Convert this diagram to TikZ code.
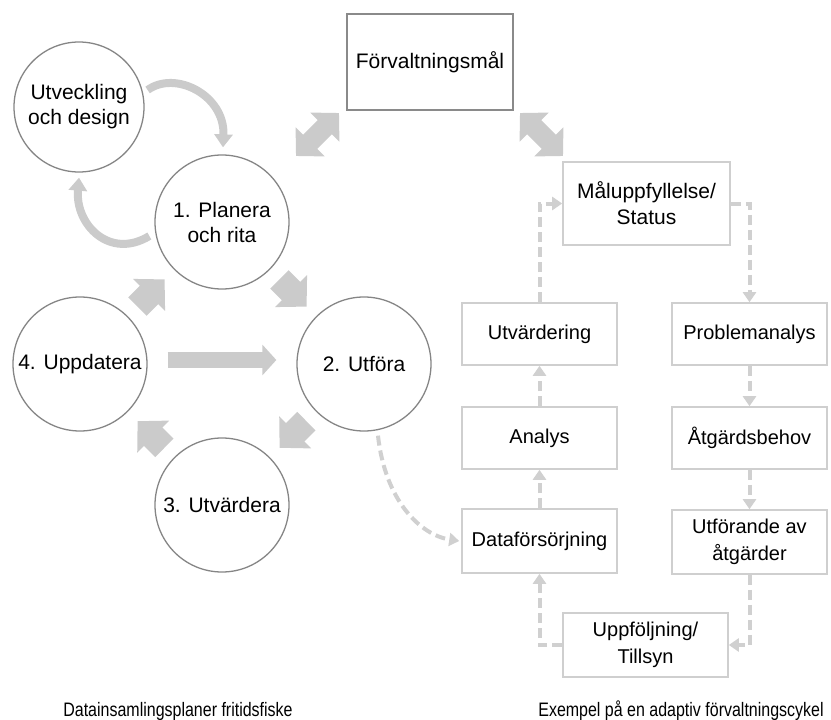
\documentclass[tikz,border=0pt]{standalone}
\usepackage{fontspec}
\setmainfont{Liberation Sans}
\newfontfamily\capfont[FakeStretch=0.82]{Liberation Sans}
\usetikzlibrary{arrows.meta,calc}
\definecolor{circc}{HTML}{858585}
\definecolor{boxl}{HTML}{CFCFCF}
\definecolor{boxd}{HTML}{8A8A8A}
\definecolor{arr}{HTML}{CBCBCB}
\definecolor{dsc}{HTML}{D0D0D0}
\begin{document}
\begin{tikzpicture}[x=1pt,y=-1pt,
  circnode/.style={circle, draw=circc, line width=1.3pt, minimum size=134pt, inner sep=0pt, align=center, font=\fontsize{21}{25}\selectfont},
  bx/.style={draw=boxl, line width=1.6pt, minimum width=155pt, minimum height=62pt, inner sep=0pt, align=center, font=\fontsize{20}{27}\selectfont},
  blk/.style={draw=arr, line width=26pt, -{Triangle[width=44pt,length=22pt]}, shorten <=13.5pt, shorten >=13.5pt},
  dblarr/.style={draw=arr, line width=20pt, {Triangle[width=40pt,length=20pt]}-{Triangle[width=40pt,length=20pt]}},
  curarr/.style={draw=arr, line width=8pt, -{Triangle[width=18pt,length=13pt]}},
  dsh/.style={draw=dsc, line width=4pt, dash pattern=on 10pt off 5pt, -{Triangle[width=13pt,length=10pt]}},
  captext/.style={font=\capfont\fontsize{19.5}{22}\selectfont, inner sep=0pt, anchor=base}
]
\useasboundingbox (0,0) rectangle (831,720);

% circles
\node[circnode, minimum size=130pt] (ut) at (79,107) {Utveckling\\och design};
\node[circnode] (pl) at (222,222) {1. Planera\\och rita};
\node[circnode] (up) at (80,364) {4. Uppdatera};
\node[circnode] (uf) at (364,364) {2. Utföra};
\node[circnode] (uv) at (222,505) {3. Utvärdera};

% block arrows of the cycle
\draw[blk] (up) -- (pl);
\draw[blk] (pl) -- (uf);
\draw[blk] (uf) -- (uv);
\draw[blk] (uv) -- (up);
\draw[draw=arr, line width=16pt, -{Triangle[width=30pt,length=14pt]}]
  ($(up.east)+(20,-4)$) -- ($(uf.west)+(-20,-4)$);

% curved arrows
\draw[curarr] ($(ut.east)+(3,-17)$) .. controls (175,70) and (225,95) .. ($(pl.north)+(1,-7)$);
\draw[curarr] ($(pl.west)+(-5,14)$) .. controls (110,260) and (75,225) .. ($(ut.south)+(0,5)$);

% boxes
\node[bx, draw=boxd, line width=1.4pt, minimum width=166pt, minimum height=96pt, font=\fontsize{21}{25}\selectfont] (forv) at (430,62) {Förvaltningsmål};
\node[bx, minimum width=167pt, minimum height=83pt, font=\fontsize{21}{26}\selectfont] (mal) at (646.5,203.5) {Måluppfyllelse/\\Status};
\node[bx] (utv) at (539.5,334) {Utvärdering};
\node[bx] (ana) at (539.5,438) {Analys};
\node[bx, minimum height=64pt] (data) at (539.5,541) {Dataförsörjning};
\node[bx] (prob) at (749.5,334) {Problemanalys};
\node[bx] (atg) at (749.5,438) {Åtgärdsbehov};
\node[bx, minimum height=64pt] (utfa) at (749.5,542) {Utförande av\\åtgärder};
\node[bx, minimum width=165pt, minimum height=64pt] (upp) at (645.5,645) {Uppföljning/\\Tillsyn};

% double arrows
\coordinate (dla) at (296,156);
\coordinate (dlb) at (339,113);
\coordinate (dra) at (520,113);
\coordinate (drb) at (563,156);
\draw[dblarr] (dla) -- (dlb);
\draw[dblarr] (dra) -- (drb);

% dashed connectors
\draw[dsh] (data) -- (ana);
\draw[dsh] (ana) -- (utv);
\draw[dsh] (utv.north) |- (mal.west);
\draw[dsh] (mal.east) -| (prob.north);
\draw[dsh] (prob) -- (atg);
\draw[dsh] (atg) -- (utfa);
\draw[dsh] (utfa.south) |- (upp.east);
\draw[dsh] (upp.west) -| (data.south);
\draw[dsh] ($(uf.south)+(14,4)$) .. controls (385,500) and (420,535) .. ($(data.west)+(-2,0)$);

% captions
\node[captext] (cap1) at (178,716) {Datainsamlingsplaner fritidsfiske};
\node[captext] (cap2) at (681,716) {Exempel på en adaptiv förvaltningscykel};
\end{tikzpicture}
\end{document}
